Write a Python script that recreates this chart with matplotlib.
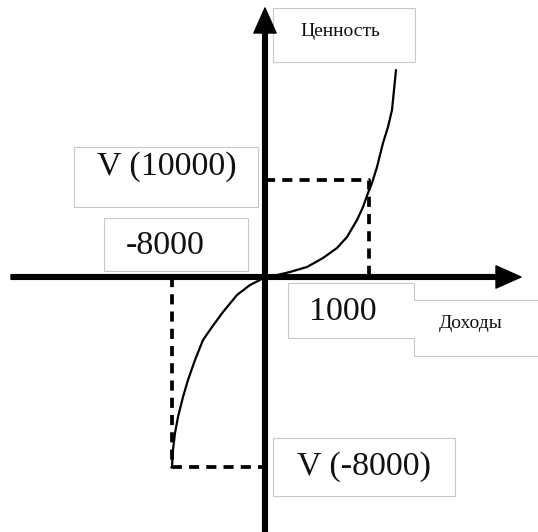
import matplotlib
matplotlib.use("Agg")
from matplotlib import pyplot as plt
from matplotlib.patches import Rectangle, Polygon

plt.rcParams['font.family'] = ['Liberation Serif', 'DejaVu Serif']

# value curve (schematic units)
gain_x = [0.0, 0.12, 0.25, 0.42, 0.58, 0.72, 0.82, 0.92, 0.98, 1.03, 1.07,
          1.12, 1.18, 1.23, 1.27, 1.29, 1.31]
gain_v = [0.0, 0.02, 0.05, 0.10, 0.19, 0.29, 0.40, 0.57, 0.70, 0.84, 0.94,
          1.10, 1.34, 1.50, 1.67, 1.87, 2.07]
loss_x = [0.0, -0.07, -0.15, -0.28, -0.42, -0.53, -0.62, -0.70, -0.77, -0.82,
          -0.87, -0.90, -0.92, -0.93]
loss_v = [0.0, -0.04, -0.08, -0.18, -0.35, -0.50, -0.63, -0.83, -1.03, -1.20,
          -1.40, -1.56, -1.73, -1.90]

# marked points
gain_point = (1.04, 0.97)
loss_point = (-0.93, -1.90)

labels = {
    'value': 'Ценность',
    'gain_v': 'V (10000)',
    'loss_x': '-8000',
    'gain_x': '1000',
    'income': 'Доходы',
    'loss_v': 'V (-8000)',
}

W, H = 538, 532
fig = plt.figure(figsize=(W / 100, H / 100), dpi=100)

# layout layer in pixel coordinates (boxes and labels)
lay = fig.add_axes([0, 0, 1, 1], zorder=0)
lay.set_xlim(0, W)
lay.set_ylim(H, 0)
lay.axis('off')

box_col = '#c8c8c8'


def box(x0, y0, x1, y1):
    lay.add_patch(Rectangle((x0, y0), x1 - x0, y1 - y0, facecolor='white',
                            edgecolor=box_col, lw=0.8))


box(273, 8, 415, 62)
box(74, 147, 258, 207)
box(104, 218, 248, 271)
box(273, 438, 455, 496)
# the "1000" and "Доходы" boxes share one outline
lay.add_patch(Polygon([(288, 283), (414, 283), (414, 300), (545, 300), (545, 356),
                       (414, 356), (414, 338), (288, 338)], closed=True,
                      facecolor='white', edgecolor=box_col, lw=0.8))

big = dict(fontsize=24.5, ha='center', va='center', color='#111111')
small = dict(fontsize=14, ha='center', va='center', color='#111111')
lay.text(340, 31, labels['value'], **small)
lay.text(167, 167, labels['gain_v'], **big)
lay.text(165, 246, labels['loss_x'], **big)
lay.text(343, 312, labels['gain_x'], **big)
lay.text(471, 324, labels['income'], **small)
lay.text(364, 467, labels['loss_v'], **big)

# chart layer: origin at pixel (265, 277), 100 px per unit
ax = fig.add_axes([0, 0, 1, 1], zorder=1)
ax.set_xlim(-2.65, 2.73)
ax.set_ylim(-2.55, 2.77)
ax.axis('off')

arrow = dict(facecolor='black', edgecolor='black', width=3.4, headwidth=16,
             headlength=18, shrink=0)
ax.annotate('', xy=(2.56, 0), xytext=(-2.54, 0), arrowprops=arrow)
ax.annotate('', xy=(0, 2.69), xytext=(0, -2.6), arrowprops=arrow)

ax.plot(gain_x, gain_v, color='black', lw=1.6, solid_capstyle='round')
ax.plot(loss_x, loss_v, color='black', lw=1.6, solid_capstyle='round')

dash = dict(color='black', lw=2.7, dashes=(2.7, 1.9))
gx, gy = gain_point
lx, ly = loss_point
ax.plot([0, gx, gx], [gy, gy, 0], **dash)
ax.plot([lx, lx, 0], [0, ly, ly], **dash)

fig.savefig('out.png', dpi=100)
